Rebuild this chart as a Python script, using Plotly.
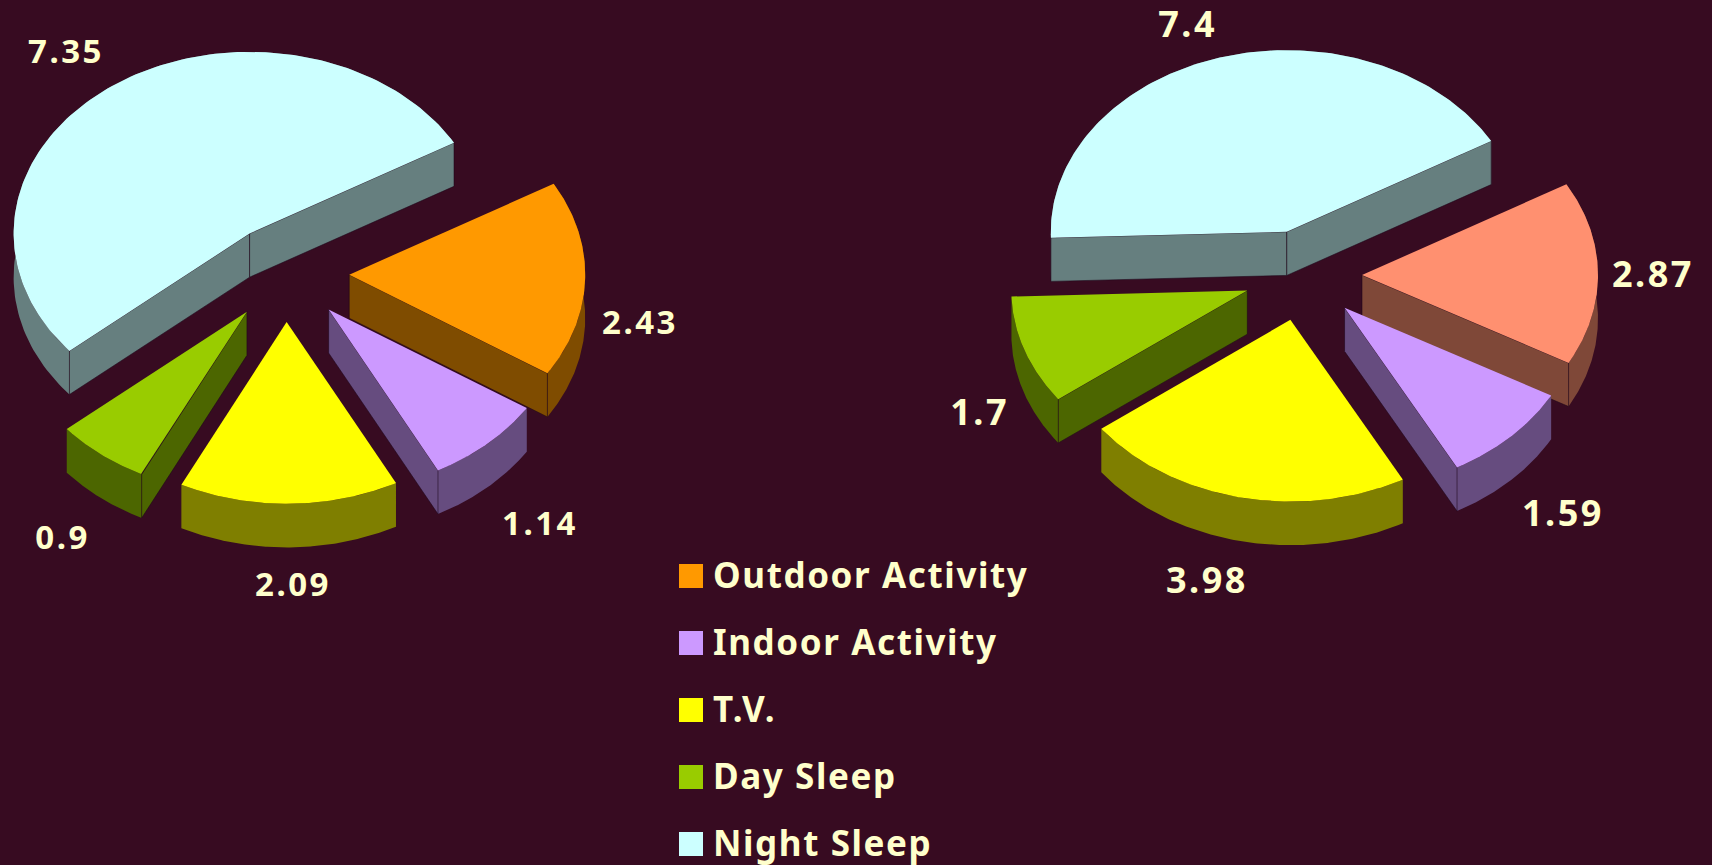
import math
import numpy as np
import plotly.graph_objects as go

# ---- data ----
CATEGORIES = ["Outdoor Activity", "Indoor Activity", "T.V.", "Day Sleep", "Night Sleep"]
VALUES_LEFT = [2.43, 1.14, 2.09, 0.9, 7.35]
VALUES_RIGHT = [2.87, 1.59, 3.98, 1.7, 7.4]
LABELS_LEFT = ["2.43", "1.14", "2.09", "0.9", "7.35"]
LABELS_RIGHT = ["2.87", "1.59", "3.98", "1.7", "7.4"]

# ---- style ----
BG = "#370B21"
TEXT = "#FFFFCC"
COLORS_LEFT = ["#FF9900", "#CC99FF", "#FFFF00", "#99CC00", "#CCFFFF"]
COLORS_RIGHT = ["#FF9070", "#CC99FF", "#FFFF00", "#99CC00", "#CCFFFF"]
FONT = "Noto Sans"

# ---- layout of the two tilted pies (drawing space = page pixels) ----
W, H = 1712, 865
RX, RY, DEPTH = 236, 181.7, 43.6
START = 30.0
PIE_LEFT = dict(cx=286, cy=273.4, explode=0.268, size=33)
PIE_RIGHT = dict(cx=1303, cy=275.5, explode=0.25, size=36)
LABEL_SHIFT_LEFT = [(55, 42), (52, 79), (4, 80), (-39, 82), (-48, -34)]
LABEL_SHIFT_RIGHT = [(55, 0), (52, 76), (-33, 82), (-45, 61), (-34, -34)]
DRAW_ORDER = [4, 3, 0, 1, 2]  # back to front
LEGEND_X, LEGEND_Y0, LEGEND_STEP = 691, 576, 67
LEGEND_TEXT_DX, LEGEND_TEXT_DY = 22, 3


def darken(hex_color):
    r, g, b = (int(hex_color[i:i + 2], 16) for i in (1, 3, 5))
    return f"rgb({r // 2},{g // 2},{b // 2})"


def poly(fig, xs, ys, fill, line=None, width=0):
    fig.add_trace(go.Scatter(
        x=list(xs), y=list(ys), mode="lines", fill="toself", fillcolor=fill,
        line=dict(color=line or fill, width=width), hoverinfo="skip", showlegend=False))


def draw_pie(fig, values, labels, colors, shifts, pie):
    total = sum(values)
    spans = [v / total * 360 for v in values]
    ends = START - np.cumsum(spans)
    starts = np.concatenate([[START], ends[:-1]])
    for i in DRAW_ORDER:
        a0, a1 = math.radians(starts[i]), math.radians(ends[i])
        mid = (a0 + a1) / 2
        ax = pie["cx"] + pie["explode"] * RX * math.cos(mid)
        ay = pie["cy"] - pie["explode"] * RY * math.sin(mid)
        t = np.linspace(a0, a1, 140)
        ox = ax + RX * np.cos(t)
        oy = ay - RY * np.sin(t)
        side = darken(colors[i])
        edge = "rgba(30,5,25,0.55)"
        # outer wall
        poly(fig, np.r_[ox, ox[::-1]], np.r_[oy, oy[::-1] + DEPTH], side)
        # cut faces that look towards the viewer
        if math.cos(a0) < 0:
            poly(fig, [ax, ox[0], ox[0], ax, ax],
                 [ay, oy[0], oy[0] + DEPTH, ay + DEPTH, ay], side, edge, 1)
        if math.cos(a1) > 0:
            poly(fig, [ax, ox[-1], ox[-1], ax, ax],
                 [ay, oy[-1], oy[-1] + DEPTH, ay + DEPTH, ay], side, edge, 1)
        # top face
        poly(fig, np.r_[ax, ox, ax], np.r_[ay, oy, ay], colors[i])
        # value label
        lx = ax + RX * math.cos(mid) + shifts[i][0]
        ly = ay - RY * math.sin(mid) + shifts[i][1]
        fig.add_annotation(x=lx, y=ly, text=labels[i], showarrow=False, xanchor="center",
                           yanchor="middle",
                           font=dict(family=FONT, size=pie["size"], color=TEXT, weight="bold"))


fig = go.Figure()
draw_pie(fig, VALUES_LEFT, LABELS_LEFT, COLORS_LEFT, LABEL_SHIFT_LEFT, PIE_LEFT)
draw_pie(fig, VALUES_RIGHT, LABELS_RIGHT, COLORS_RIGHT, LABEL_SHIFT_RIGHT, PIE_RIGHT)

# legend
legend_y = [LEGEND_Y0 + LEGEND_STEP * i for i in range(len(CATEGORIES))]
fig.add_trace(go.Scatter(
    x=[LEGEND_X] * len(CATEGORIES), y=legend_y, mode="markers",
    marker=dict(symbol="square", size=24, color=COLORS_LEFT, line=dict(width=0)),
    hoverinfo="skip", showlegend=False, cliponaxis=False))
fig.add_trace(go.Scatter(
    x=[LEGEND_X + LEGEND_TEXT_DX] * len(CATEGORIES),
    y=[y + LEGEND_TEXT_DY for y in legend_y],
    mode="text", text=CATEGORIES, textposition="middle right",
    textfont=dict(family=FONT, size=35, color=TEXT, weight="bold"),
    hoverinfo="skip", showlegend=False, cliponaxis=False))

fig.update_layout(
    width=W, height=H, margin=dict(l=0, r=0, t=0, b=0),
    paper_bgcolor=BG, plot_bgcolor=BG, showlegend=False,
    xaxis=dict(range=[0, W], visible=False, fixedrange=True),
    yaxis=dict(range=[H, 0], visible=False, fixedrange=True),
)
POST = """
document.body.style.margin='0';document.body.style.overflow='hidden';document.body.style.background='%s';
function spacing(){
  document.querySelectorAll('.textpoint text').forEach(function(t){t.style.letterSpacing='1.6px';});
  document.querySelectorAll('.annotation-text').forEach(function(t){t.style.letterSpacing='2.5px';});
}
spacing();setTimeout(spacing,50);
""" % BG
fig.write_html("out.html", config=dict(displayModeBar=False), post_script=POST)
